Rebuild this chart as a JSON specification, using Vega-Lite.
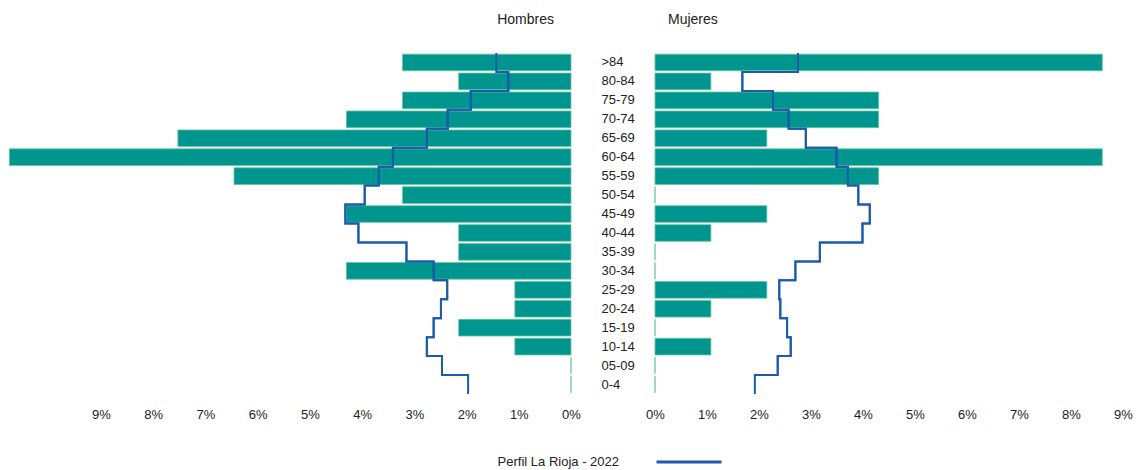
{
  "$schema": "https://vega.github.io/schema/vega-lite/v6.json",
  "background": "white",
  "padding": {"left": 8, "top": 13, "right": 5, "bottom": 0},
  "bounds": "flush",
  "spacing": 84,
  "config": {
    "font": "Liberation Sans",
    "view": {"stroke": null},
    "axis": {"grid": false, "domain": false, "ticks": false, "labelFontSize": 13, "labelColor": "#222222", "labelFlush": false},
    "title": {"fontSize": 14, "fontWeight": "normal", "color": "#222222"}
  },
  "data": {
    "values": [
      {"edad": ">84", "hombres": 0.03226, "mujeres": 0.08602, "perfil_hombres": 0.0143, "perfil_mujeres": 0.0275},
      {"edad": "80-84", "hombres": 0.02151, "mujeres": 0.01075, "perfil_hombres": 0.0120, "perfil_mujeres": 0.0168},
      {"edad": "75-79", "hombres": 0.03226, "mujeres": 0.04301, "perfil_hombres": 0.0192, "perfil_mujeres": 0.0227},
      {"edad": "70-74", "hombres": 0.04301, "mujeres": 0.04301, "perfil_hombres": 0.0236, "perfil_mujeres": 0.0257},
      {"edad": "65-69", "hombres": 0.07527, "mujeres": 0.02151, "perfil_hombres": 0.0276, "perfil_mujeres": 0.0290},
      {"edad": "60-64", "hombres": 0.10753, "mujeres": 0.08602, "perfil_hombres": 0.0341, "perfil_mujeres": 0.0349},
      {"edad": "55-59", "hombres": 0.06452, "mujeres": 0.04301, "perfil_hombres": 0.0368, "perfil_mujeres": 0.0371},
      {"edad": "50-54", "hombres": 0.03226, "mujeres": 0, "perfil_hombres": 0.0395, "perfil_mujeres": 0.0391},
      {"edad": "45-49", "hombres": 0.04301, "mujeres": 0.02151, "perfil_hombres": 0.0432, "perfil_mujeres": 0.0413},
      {"edad": "40-44", "hombres": 0.02151, "mujeres": 0.01075, "perfil_hombres": 0.0407, "perfil_mujeres": 0.0399},
      {"edad": "35-39", "hombres": 0.02151, "mujeres": 0, "perfil_hombres": 0.0315, "perfil_mujeres": 0.0317},
      {"edad": "30-34", "hombres": 0.04301, "mujeres": 0, "perfil_hombres": 0.0263, "perfil_mujeres": 0.0270},
      {"edad": "25-29", "hombres": 0.01075, "mujeres": 0.02151, "perfil_hombres": 0.0237, "perfil_mujeres": 0.0239},
      {"edad": "20-24", "hombres": 0.01075, "mujeres": 0.01075, "perfil_hombres": 0.0249, "perfil_mujeres": 0.0241},
      {"edad": "15-19", "hombres": 0.02151, "mujeres": 0, "perfil_hombres": 0.0263, "perfil_mujeres": 0.0254},
      {"edad": "10-14", "hombres": 0.01075, "mujeres": 0.01075, "perfil_hombres": 0.0276, "perfil_mujeres": 0.0261},
      {"edad": "05-09", "hombres": 0, "mujeres": 0, "perfil_hombres": 0.0247, "perfil_mujeres": 0.0236},
      {"edad": "0-4", "hombres": 0, "mujeres": 0, "perfil_hombres": 0.0197, "perfil_mujeres": 0.0192}
    ]
  },
  "hconcat": [
    {
      "width": 562,
      "height": 341,
      "title": {"text": "Hombres", "anchor": "end", "frame": "group", "dx": -17, "offset": 22},
      "resolve": {"scale": {"y": "independent"}},
      "layer": [
        {
          "mark": {"type": "bar", "color": "#00968f", "stroke": "#6cc49a", "strokeWidth": 0.8},
          "encoding": {
            "y": {"field": "edad", "type": "nominal", "sort": [">84","80-84","75-79","70-74","65-69","60-64","55-59","50-54","45-49","40-44","35-39","30-34","25-29","20-24","15-19","10-14","05-09","0-4"], "axis": null, "scale": {"type": "band", "paddingInner": 0.12, "paddingOuter": 0.06}},
            "x": {"field": "hombres", "type": "quantitative", "scale": {"domain": [0, 0.1076], "reverse": true, "nice": false}, "axis": {"values": [0,0.01,0.02,0.03,0.04,0.05,0.06,0.07,0.08,0.09], "format": ".0%", "title": null, "labelPadding": 14}}
          }
        },
        {
          "mark": {"type": "line", "interpolate": "step-before", "orient": "horizontal", "strokeWidth": 2},
          "encoding": {
            "y": {"field": "edad", "type": "nominal", "bandPosition": 0, "sort": [">84","80-84","75-79","70-74","65-69","60-64","55-59","50-54","45-49","40-44","35-39","30-34","25-29","20-24","15-19","10-14","05-09","0-4"], "axis": null, "scale": {"type": "band", "paddingInner": 0, "paddingOuter": 0}},
            "x": {"field": "perfil_hombres", "type": "quantitative", "scale": {"domain": [0, 0.1076], "reverse": true, "nice": false}, "axis": {"values": [0,0.01,0.02,0.03,0.04,0.05,0.06,0.07,0.08,0.09], "format": ".0%", "title": null, "labelPadding": 14}},
            "color": {"datum": "Perfil La Rioja - 2022", "scale": {"range": ["#1c5bab"]}, "legend": {"title": null, "labelAlign": "right", "labelOffset": -104, "labelFontSize": 13, "labelColor": "#222222", "labelLimit": 300, "orient": "none", "legendX": 646, "legendY": 375, "symbolType": "stroke", "symbolSize": 4225, "symbolStrokeWidth": 3}}
          }
        },
        {
          "mark": {"type": "line", "interpolate": "step-after", "orient": "horizontal", "strokeWidth": 2},
          "encoding": {
            "y": {"field": "edad", "type": "nominal", "bandPosition": 1, "sort": [">84","80-84","75-79","70-74","65-69","60-64","55-59","50-54","45-49","40-44","35-39","30-34","25-29","20-24","15-19","10-14","05-09","0-4"], "axis": null, "scale": {"type": "band", "paddingInner": 0, "paddingOuter": 0}},
            "x": {"field": "perfil_hombres", "type": "quantitative", "scale": {"domain": [0, 0.1076], "reverse": true, "nice": false}, "axis": {"values": [0,0.01,0.02,0.03,0.04,0.05,0.06,0.07,0.08,0.09], "format": ".0%", "title": null, "labelPadding": 14}},
            "color": {"datum": "Perfil La Rioja - 2022", "scale": {"range": ["#1c5bab"]}, "legend": {"title": null, "labelAlign": "right", "labelOffset": -104, "labelFontSize": 13, "labelColor": "#222222", "labelLimit": 300, "orient": "none", "legendX": 646, "legendY": 375, "symbolType": "stroke", "symbolSize": 4225, "symbolStrokeWidth": 3}}
          }
        }
      ]
    },
    {
      "width": 468,
      "height": 341,
      "title": {"text": "Mujeres", "anchor": "start", "frame": "group", "dx": 13, "offset": 22},
      "resolve": {"scale": {"y": "independent"}},
      "layer": [
        {
          "mark": {"type": "bar", "color": "#00968f", "stroke": "#6cc49a", "strokeWidth": 0.8},
          "encoding": {
            "y": {"field": "edad", "type": "nominal", "sort": [">84","80-84","75-79","70-74","65-69","60-64","55-59","50-54","45-49","40-44","35-39","30-34","25-29","20-24","15-19","10-14","05-09","0-4"], "axis": {"orient": "left", "labelAlign": "left", "labelPadding": 54, "title": null, "labelFontSize": 13}, "scale": {"type": "band", "paddingInner": 0.12, "paddingOuter": 0.06}},
            "x": {"field": "mujeres", "type": "quantitative", "scale": {"domain": [0, 0.09], "nice": false}, "axis": {"values": [0,0.01,0.02,0.03,0.04,0.05,0.06,0.07,0.08,0.09], "format": ".0%", "title": null, "labelPadding": 14}}
          }
        },
        {
          "mark": {"type": "line", "interpolate": "step-before", "orient": "horizontal", "strokeWidth": 2},
          "encoding": {
            "y": {"field": "edad", "type": "nominal", "bandPosition": 0, "sort": [">84","80-84","75-79","70-74","65-69","60-64","55-59","50-54","45-49","40-44","35-39","30-34","25-29","20-24","15-19","10-14","05-09","0-4"], "axis": null, "scale": {"type": "band", "paddingInner": 0, "paddingOuter": 0}},
            "x": {"field": "perfil_mujeres", "type": "quantitative", "scale": {"domain": [0, 0.09], "nice": false}, "axis": {"values": [0,0.01,0.02,0.03,0.04,0.05,0.06,0.07,0.08,0.09], "format": ".0%", "title": null, "labelPadding": 14}},
            "color": {"datum": "Perfil La Rioja - 2022", "scale": {"range": ["#1c5bab"]}, "legend": {"title": null, "labelAlign": "right", "labelOffset": -104, "labelFontSize": 13, "labelColor": "#222222", "labelLimit": 300, "orient": "none", "legendX": 646, "legendY": 375, "symbolType": "stroke", "symbolSize": 4225, "symbolStrokeWidth": 3}}
          }
        },
        {
          "mark": {"type": "line", "interpolate": "step-after", "orient": "horizontal", "strokeWidth": 2},
          "encoding": {
            "y": {"field": "edad", "type": "nominal", "bandPosition": 1, "sort": [">84","80-84","75-79","70-74","65-69","60-64","55-59","50-54","45-49","40-44","35-39","30-34","25-29","20-24","15-19","10-14","05-09","0-4"], "axis": null, "scale": {"type": "band", "paddingInner": 0, "paddingOuter": 0}},
            "x": {"field": "perfil_mujeres", "type": "quantitative", "scale": {"domain": [0, 0.09], "nice": false}, "axis": {"values": [0,0.01,0.02,0.03,0.04,0.05,0.06,0.07,0.08,0.09], "format": ".0%", "title": null, "labelPadding": 14}},
            "color": {"datum": "Perfil La Rioja - 2022", "scale": {"range": ["#1c5bab"]}, "legend": {"title": null, "labelAlign": "right", "labelOffset": -104, "labelFontSize": 13, "labelColor": "#222222", "labelLimit": 300, "orient": "none", "legendX": 646, "legendY": 375, "symbolType": "stroke", "symbolSize": 4225, "symbolStrokeWidth": 3}}
          }
        }
      ]
    }
  ]
}
